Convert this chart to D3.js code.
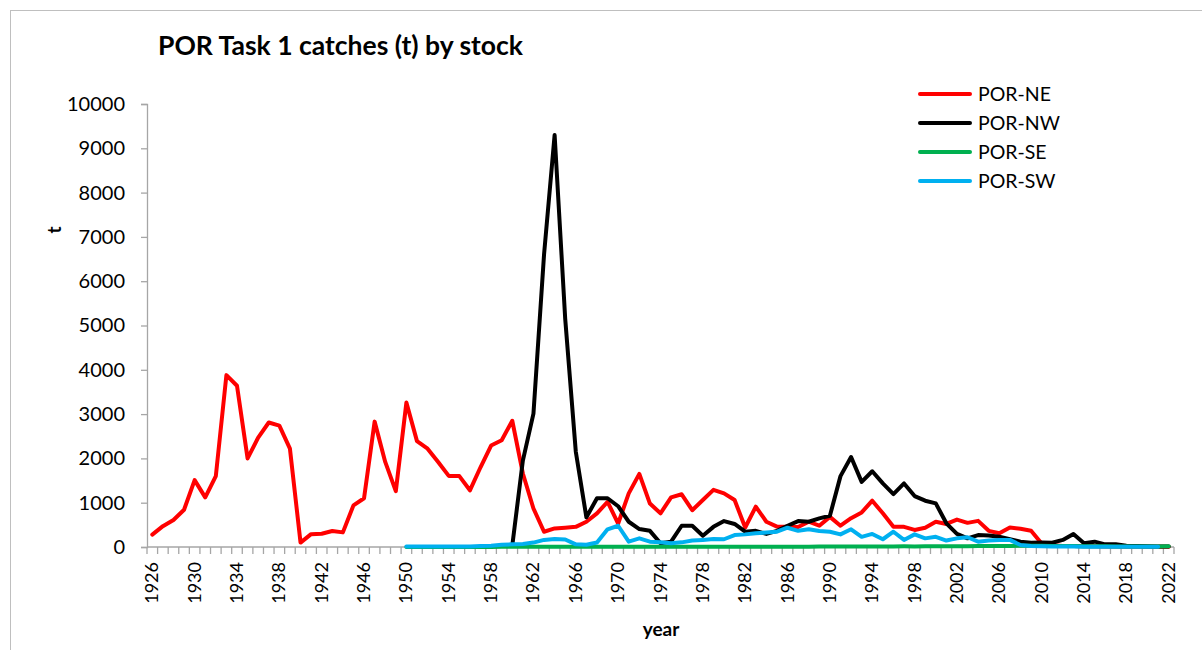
<!DOCTYPE html>
<html>
<head>
<meta charset="utf-8">
<script src="https://cdn.jsdelivr.net/npm/d3@7"></script>
<style>
  html, body { margin: 0; padding: 0; background: #fff; }
  svg { display: block; font-family: Lato, "Open Sans", sans-serif; }
</style>
</head>
<body>
<svg id="chart" width="1202" height="650"></svg>
<script>
// ---------- data ----------
const firstYear = 1926;
const lastYear = 2022;
const years = d3.range(firstYear, lastYear + 1);
const tickYears = [1926,1930,1934,1938,1942,1946,1950,1954,1958,1962,1966,1970,1974,1978,1982,1986,1990,1994,1998,2002,2006,2010,2014,2018,2022];
const yTicks = [0,1000,2000,3000,4000,5000,6000,7000,8000,9000,10000];

const seriesNames = ["POR-NE", "POR-NW", "POR-SE", "POR-SW"];
const seriesColors = ["#FF0000", "#000000", "#00B050", "#00B0F0"];
const seriesStart = [1926, 1960, 1950, 1950];

// POR-NE 1926..2022
const neValues = [
  280, 470, 610, 840, 1510, 1120, 1600, 3880, 3640, 2000,      // 1926-1935
  2470, 2810, 2740, 2220, 100, 290, 300, 360, 330, 940,        // 1936-1945
  1100, 2830, 1920, 1260, 3260, 2390, 2220, 1920, 1605, 1600,  // 1946-1955
  1280, 1800, 2290, 2410, 2850, 1660, 870, 345, 420, 435,      // 1956-1965
  455, 570, 760, 1020, 530, 1210, 1650, 980, 760, 1120,        // 1966-1975
  1190, 830, 1060, 1290, 1210, 1060, 440, 910, 570, 460,       // 1976-1985
  455, 450, 570, 480, 680, 480, 650, 780, 1045, 760,           // 1986-1995
  455, 455, 385, 435, 570, 520, 620, 545, 590, 365,            // 1996-2005
  310, 440, 410, 365, 80, 40, 25, 20, 15, 15,                  // 2006-2015
  10, 10, 8, 6, 5, 5, 5                                        // 2016-2022
];
// POR-NW 1960..2022
const nwValues = [
  30, 1950, 3010, 6600, 9300, 5150,                            // 1960-1965
  2150, 670, 1100, 1100, 920, 570, 405, 365, 85, 120,          // 1966-1975
  480, 480, 255, 455, 585, 520, 345, 365, 295, 365,            // 1976-1985
  480, 585, 570, 645, 705, 1600, 2030, 1470, 1710, 1435,       // 1986-1995
  1195, 1435, 1150, 1045, 985, 535, 295, 195, 270, 260,        // 1996-2005
  230, 175, 120, 95, 100, 95, 160, 295, 85, 120,               // 2006-2015
  60, 60, 30, 20, 15, 10, 10                                   // 2016-2022
];
// POR-SE 1950..2022
const seValues = [
  0, 0, 0, 0, 0, 0,                                            // 1950-1955
  0, 0, 2, 3, 5, 5, 5, 4, 5, 5,                                // 1956-1965
  5, 4, 5, 5, 6, 5, 5, 6, 5, 5,                                // 1966-1975
  6, 5, 5, 6, 6, 5, 6, 6, 7, 6,                                // 1976-1985
  7, 8, 8, 9, 10, 10, 12, 12, 11, 12,                          // 1986-1995
  14, 15, 14, 15, 16, 17, 18, 18, 20, 20,                      // 1996-2005
  22, 24, 30, 28, 26, 24, 22, 20, 18, 16,                      // 2006-2015
  15, 14, 12, 12, 12, 14, 15                                   // 2016-2022
];
// POR-SW 1950..2021
const swValues = [
  10, 10, 10, 10, 10, 10,                                      // 1950-1955
  10, 20, 30, 50, 60, 70, 100, 160, 180, 170,                  // 1956-1965
  60, 50, 100, 400, 480, 120, 195, 120, 105, 85,               // 1966-1975
  105, 145, 160, 180, 175, 270, 285, 310, 325, 345,            // 1976-1985
  435, 365, 400, 360, 345, 285, 400, 230, 295, 175,            // 1986-1995
  345, 160, 285, 195, 230, 145, 195, 220, 120, 145,            // 1996-2005
  160, 160, 45, 20, 15, 10, 10, 10, 8, 8,                      // 2006-2015
  6, 5, 5, 5, 5, 5                                             // 2016-2021
];
const seriesValues = [neValues, nwValues, seValues, swValues];

// ---------- layout ----------
const svg = d3.select("#chart");
const plotLeft = 147, plotRight = 1174, plotTop = 104, plotBottom = 547;
const axisColor = "#A6A6A6";

// outer chart border
svg.append("rect")
  .attr("x", 10.5).attr("y", 10.5)
  .attr("width", 1200).attr("height", 660)
  .attr("fill", "none").attr("stroke", "#BFBFBF").attr("stroke-width", 1);

const x = d3.scaleBand().domain(years).range([plotLeft, plotRight]).paddingInner(0).paddingOuter(0);
const y = d3.scaleLinear().domain([0, 10000]).range([plotBottom, plotTop]);

// Y axis
const yAxis = d3.axisLeft(y).tickValues(yTicks).tickFormat(d3.format("d")).tickSize(6).tickPadding(16);
const gy = svg.append("g").attr("transform", `translate(${plotLeft},0)`).call(yAxis);
gy.select(".domain").attr("stroke", axisColor).attr("stroke-width", 1.3);
gy.selectAll(".tick line").attr("stroke", axisColor).attr("stroke-width", 1.3);
gy.selectAll(".tick text").attr("font-family", "Lato, sans-serif").attr("font-size", 20).attr("fill", "#000");

// X axis: ticks at category boundaries
const gx = svg.append("g").attr("transform", `translate(0,${plotBottom})`);
gx.append("line").attr("x1", plotLeft).attr("x2", plotRight).attr("y1", 0).attr("y2", 0)
  .attr("stroke", axisColor).attr("stroke-width", 1.3);
const boundaries = years.map(d => x(d)).concat([x(lastYear) + x.bandwidth()]);
gx.selectAll("line.tk").data(boundaries).enter().append("line")
  .attr("class", "tk")
  .attr("x1", d => d).attr("x2", d => d).attr("y1", 0).attr("y2", 7)
  .attr("stroke", axisColor).attr("stroke-width", 1.3);
gx.selectAll("text.lbl").data(tickYears).enter().append("text")
  .attr("class", "lbl")
  .attr("transform", d => `translate(${x(d) + x.bandwidth() / 2 + 6},${15}) rotate(-90)`)
  .attr("text-anchor", "end")
  .attr("font-size", 18)
  .attr("fill", "#000")
  .text(d => d);

// Lines
const line = d3.line()
  .defined(d => d.v != null)
  .x(d => x(d.year) + x.bandwidth() / 2)
  .y(d => y(d.v));

seriesNames.forEach((name, i) => {
  const pts = seriesValues[i].map((v, k) => ({ year: seriesStart[i] + k, v: v }));
  svg.append("path")
    .datum(pts)
    .attr("fill", "none")
    .attr("stroke", seriesColors[i])
    .attr("stroke-width", 4)
    .attr("stroke-linejoin", "round")
    .attr("stroke-linecap", "round")
    .attr("d", line);
});

// Title
svg.append("text").attr("x", 158).attr("y", 55)
  .attr("font-size", 26.5).attr("font-weight", "bold").attr("fill", "#000")
  .text("POR Task 1 catches (t) by stock");

// Axis titles
svg.append("text").attr("transform", "translate(61,230) rotate(-90)")
  .attr("text-anchor", "middle").attr("font-size", 19).attr("font-weight", "bold")
  .text("t");
svg.append("text").attr("x", 661).attr("y", 636)
  .attr("text-anchor", "middle").attr("font-size", 19).attr("font-weight", "bold")
  .text("year");

// Legend
const legend = svg.append("g");
seriesNames.forEach((name, i) => {
  const ly = 94 + i * 29;
  legend.append("line").attr("x1", 920).attr("x2", 970).attr("y1", ly).attr("y2", ly)
    .attr("stroke", seriesColors[i]).attr("stroke-width", 4).attr("stroke-linecap", "round");
  legend.append("text").attr("x", 978).attr("y", ly + 7)
    .attr("font-size", 19.5).attr("fill", "#000").text(name);
});
</script>
</body>
</html>
